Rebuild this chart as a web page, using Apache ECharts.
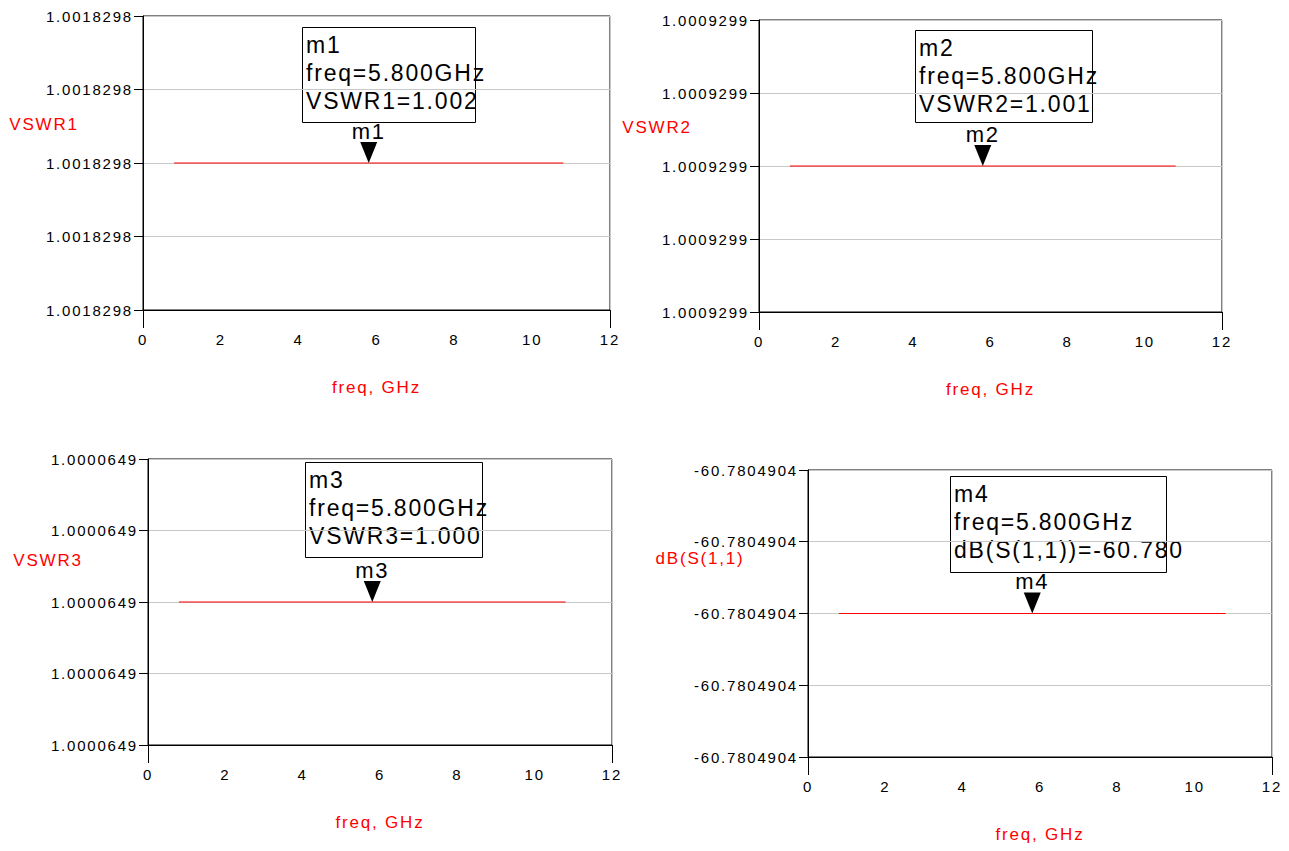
<!DOCTYPE html>
<html><head><meta charset="utf-8">
<script src="https://cdn.jsdelivr.net/npm/echarts@6/dist/echarts.min.js"></script>
<style>
html,body{margin:0;padding:0;background:#fff}
#c{width:1289px;height:851px}
#c svg text{letter-spacing:1.8px}
</style></head><body><div id="c"></div>
<script>
// ---- data ----
const freq = [0.8, 5.8, 10.8];                 // GHz sweep end points of each trace
const traceNames = ['VSWR1', 'VSWR2', 'VSWR3', 'dB(S(1,1))'];
const yTitles = ['VSWR1', 'VSWR2', 'VSWR3', 'dB(S(1,1)'];
const traceValues = [1.0018298, 1.0009299, 1.0000649, -60.7804904];
const markerNames = ['m1', 'm2', 'm3', 'm4'];
const markerFreq = [5.8, 5.8, 5.8, 5.8];
const xTitle = 'freq, GHz';
const xMin = 0, xMax = 12, xStep = 2;
const yStep = 1e-9, yStepsEachSide = 2, yDecimals = 7;

// ---- layout ----
const grids = [
  {left: 143, top: 16, width: 467, height: 294},
  {left: 759, top: 20, width: 463, height: 292},
  {left: 148, top: 459, width: 464, height: 286},
  {left: 808, top: 470, width: 464, height: 287}
];
const yTitlePos = [[44, 124], [657, 127], [48, 560], [700, 558]];
const boxes = [[302, 27, 173, 95], [915, 30, 177, 92], [305, 462, 177, 95], [950, 476, 216, 96]];

const FONT = '"Liberation Sans", Arial, sans-serif';
const RED = '#ff0000';
const chart = echarts.init(document.getElementById('c'), null, {renderer: 'svg'});

const xAxes = [], yAxes = [], series = [], graphic = [];
grids.forEach((g, i) => {
  xAxes.push({
    gridIndex: i, type: 'value', min: xMin, max: xMax, interval: xStep,
    name: xTitle, nameLocation: 'middle', nameGap: 69,
    nameTextStyle: {color: RED, fontSize: 17, fontFamily: FONT},
    axisLine: {show: true, onZero: false, lineStyle: {color: '#000', width: 1}},
    axisTick: {show: true, length: 18, inside: false, customValues: [xMin, xMax], lineStyle: {color: '#000'}},
    axisLabel: {color: '#000', fontSize: 15, fontFamily: FONT, margin: 22},
    splitLine: {show: true, lineStyle: {color: '#c8c8c8', width: 1}}
  });
  const v = traceValues[i];
  const lo = Math.round(v / yStep - yStepsEachSide) * yStep;
  const hi = Math.round(v / yStep + yStepsEachSide) * yStep;
  yAxes.push({
    gridIndex: i, type: 'value', min: lo, max: hi, interval: yStep,
    axisLine: {show: true, onZero: false, lineStyle: {color: '#000', width: 1}},
    axisTick: {show: true, length: 9, lineStyle: {color: '#000'}},
    axisLabel: {color: '#000', fontSize: 15, fontFamily: FONT, margin: 10,
      formatter: val => val.toFixed(yDecimals)},
    splitLine: {show: true, lineStyle: {color: '#c8c8c8', width: 1}}
  });
  // trace (drawn on its own upper level so nothing can cover it)
  series.push({
    type: 'line', xAxisIndex: i, yAxisIndex: i, name: traceNames[i],
    data: freq.map(f => [f, v]), showSymbol: false, silent: true,
    zlevel: 1, z: 10, clip: false, color: RED,
    itemStyle: {color: RED},
    lineStyle: {color: RED, width: 1, opacity: 1, shadowBlur: 0}
  });
  // marker triangle + name
  series.push({
    type: 'scatter', xAxisIndex: i, yAxisIndex: i, name: markerNames[i],
    data: [[markerFreq[i], v]], silent: true, zlevel: 2, z: 11, clip: false,
    symbol: 'path://M0,0 L10,0 L5,12 Z', symbolSize: [17, 21], symbolOffset: [0, '-50%'],
    itemStyle: {color: '#000', opacity: 1},
    label: {show: true, position: 'top', distance: 0, formatter: markerNames[i],
      color: '#000', fontSize: 22, fontFamily: FONT}
  });
  graphic.push({
    type: 'text', x: yTitlePos[i][0], y: yTitlePos[i][1],
    style: {text: yTitles[i], fill: RED, font: '17px ' + FONT, align: 'center', verticalAlign: 'middle'}
  });
  const b = boxes[i];
  graphic.push({
    type: 'rect', shape: {x: b[0] + 0.5, y: b[1] + 0.5, width: b[2], height: b[3]},
    style: {fill: '#fff', stroke: '#000', lineWidth: 1}
  });
  const valStr = traceNames[i] + '=' + traceValues[i].toFixed(3);
  const freqStr = 'freq=' + markerFreq[i].toFixed(3) + 'GHz';
  graphic.push({
    type: 'text', x: b[0] + 4, y: b[1] + 4,
    style: {text: markerNames[i] + '\n' + freqStr + '\n' + valStr, fill: '#000',
      font: '23px ' + FONT, lineHeight: 28, align: 'left', verticalAlign: 'top'}
  });
});

chart.setOption({
  animation: false,
  backgroundColor: '#fff',
  grid: grids.map(g => Object.assign({show: true, borderColor: '#000', borderWidth: 1, backgroundColor: 'transparent'}, g)),
  xAxis: xAxes, yAxis: yAxes, series: series, graphic: graphic
});
</script></body></html>
